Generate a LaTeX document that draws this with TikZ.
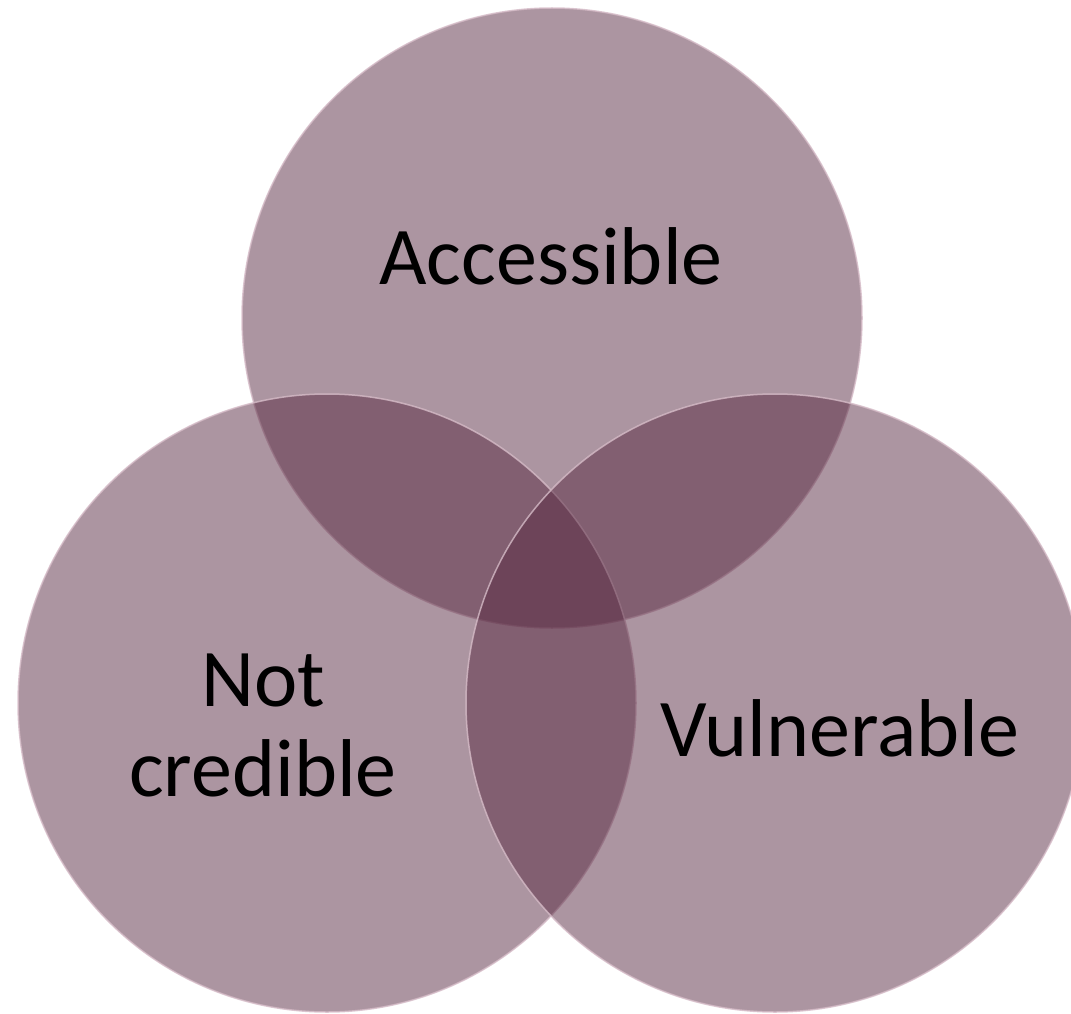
\documentclass[tikz,border=0pt]{standalone}
\usepackage{fontspec}
\setmainfont{Carlito}
\usepackage{xcolor}
\usepackage{tikz}
\definecolor{mauve}{RGB}{86,39,63}
\definecolor{rim}{RGB}{214,188,200}

\begin{document}
\begin{tikzpicture}[x=1pt,y=-1pt,
	set/.style={circle,inner sep=0pt,outer sep=0pt,minimum size=#1,
		fill=mauve,fill opacity=0.49,draw=rim,draw opacity=0.8,line width=1.5pt},
	setname/.style={font=\fontsize{82}{90}\selectfont,align=center,text=black}]
	\useasboundingbox (0,0) rectangle (1071,1014);
	\node[set=620pt] (acc) at (552,318) {};
	\node[set=618pt] (cred) at (327,703) {};
	\node[set=618pt] (vul) at (775,703) {};
	%
	\node[setname] (accT) at (551,256) {Accessible};
	\node[setname] (credT) at (263,725) {Not\\credible};
	\node[setname] (vulT) at (840,728) {Vulnerable};
\end{tikzpicture}
\end{document}
